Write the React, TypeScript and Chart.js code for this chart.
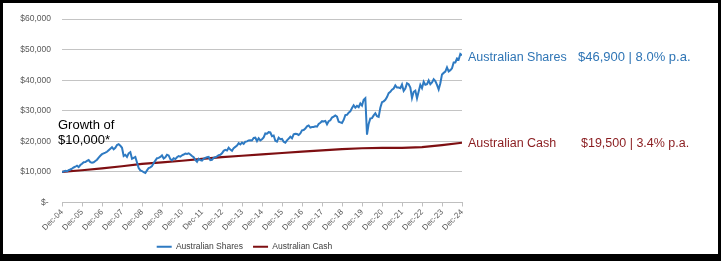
import React, { useEffect, useRef } from 'react';
import { Chart, registerables } from 'chart.js';

Chart.register(...registerables);

const tickLabels = [
  'Dec-04', 'Dec-05', 'Dec-06', 'Dec-07', 'Dec-08', 'Dec-09', 'Dec-10',
  'Dec-11', 'Dec-12', 'Dec-13', 'Dec-14', 'Dec-15', 'Dec-16', 'Dec-17',
  'Dec-18', 'Dec-19', 'Dec-20', 'Dec-21', 'Dec-22', 'Dec-23', 'Dec-24',
];

// Monthly values, Dec-04 .. Dec-24
const sharesValues = [
  10000,
  10150, 10350, 10200, 10550, 10800, 11100, 11450, 11700, 12050, 11600, 12250, 12700,
  13200, 13250, 13600, 13900, 13200, 13000, 13150, 13600, 14000, 14700, 15300, 15800,
  16050, 16300, 16600, 17100, 17600, 18100, 17400, 17900, 18800, 19100, 18600, 17900,
  15200, 15600, 14900, 16100, 16500, 14300, 14600, 14900, 13100, 11300, 10500, 10300,
  9900, 9650, 10500, 11300, 11500, 11900, 12900, 13700, 14500, 14600, 14900, 15400,
  14400, 14800, 15600, 15400, 14200, 13800, 14500, 14200, 14800, 15200, 15000, 15450,
  15700, 16000, 15900, 16100, 15700, 15200, 14800, 13900, 13300, 14300, 13900, 13700,
  14300, 14600, 14800, 14900, 13900, 14000, 14600, 14800, 15100, 15500, 15600, 16100,
  16900, 17200, 17000, 17900, 17300, 16900, 17800, 18200, 18600, 19400, 19000, 19600,
  19200, 19900, 20000, 20300, 20400, 20300, 21100, 21200, 20100, 21000, 20300, 20700,
  21300, 22600, 22500, 23000, 22900, 21700, 21900, 20200, 19900, 21200, 20700, 20800,
  19900, 19600, 20300, 20900, 21500, 21000, 22300, 22500, 22400, 22100, 22600, 23600,
  23700, 24200, 24900, 25200, 24500, 24700, 24700, 24900, 24800, 25700, 26100, 26600,
  26500, 26700, 25600, 26600, 26900, 27800, 28100, 28500, 28100, 26400, 26200, 26000,
  27000, 28600, 28700, 29400, 29800, 30900, 31800, 31000, 31600, 31200, 32400, 31700,
  33600, 34100, 22200, 25700, 27500, 27600, 28500, 29200, 28200, 28000, 31000, 32800,
  33100, 33600, 34500, 35800, 36200, 36900, 37300, 38300, 37600, 37600, 37400, 38600,
  36500, 37300, 39000, 38700, 37600, 34200, 36200, 36600, 34100, 36300, 38500, 37400,
  39500, 38500, 38700, 39900, 38700, 39300, 40300, 39700, 38500, 37000, 39000, 41900,
  42400, 42800, 44200, 42900, 43300, 43900, 45800, 45800, 47100, 46800, 48600, 48200,
];

// Yearly values, Dec-04 .. Dec-24
const cashValues = [
  10000, 10550, 11150, 11850, 12650, 13100, 13650, 14300, 14850, 15300,
  15750, 16200, 16650, 17050, 17450, 17750, 17850, 17870, 18100, 18800, 19550,
];

const seriesNames = ['Australian Shares', 'Australian Cash'];
const summaries = ['$46,900 | 8.0% p.a.', '$19,500 | 3.4% p.a.'];
const growthText = ['Growth of', '$10,000*'];
const yTickValues = [0, 10000, 20000, 30000, 40000, 50000, 60000];

const BLUE = '#2E7AC2';
const BLUE_TEXT = '#2F75B5';
const RED = '#7E0F12';
const RED_TEXT = '#8A1C1F';
const SMALL_FONT = '"Liberation Sans", Arial, sans-serif';

export default function App() {
  const ref = useRef<HTMLCanvasElement>(null);

  useEffect(() => {
    const canvas = ref.current;
    if (!canvas) return;

    const annotations = {
      id: 'annotations',
      afterLayout(chart: any) {
        if (chart.legend) chart.legend.left = 24;
      },
      afterDraw(chart: any) {
        const { ctx, chartArea, scales } = chart;
        const y = scales.y;
        ctx.save();
        ctx.textAlign = 'left';
        ctx.textBaseline = 'alphabetic';
        const xName = chartArea.right + 6;

        ctx.fillStyle = BLUE_TEXT;
        ctx.font = '12.5px ' + SMALL_FONT;
        ctx.fillText(seriesNames[0], xName, y.getPixelForValue(46150));
        ctx.font = '13px ' + SMALL_FONT;
        ctx.fillText(summaries[0], chartArea.right + 116, y.getPixelForValue(46150));

        ctx.fillStyle = RED_TEXT;
        ctx.font = '12.5px ' + SMALL_FONT;
        ctx.fillText(seriesNames[1], xName, y.getPixelForValue(18200));
        ctx.fillText(summaries[1], chartArea.right + 119, y.getPixelForValue(18200));

        ctx.fillStyle = '#000000';
        ctx.font = '13px ' + SMALL_FONT;
        ctx.fillText(growthText[0], chartArea.left - 4, y.getPixelForValue(24160));
        ctx.fillText(growthText[1], chartArea.left - 4, y.getPixelForValue(19250));
        ctx.restore();
      },
    };

    const chart = new Chart(canvas, {
      type: 'line',
      data: {
        datasets: [
          {
            label: seriesNames[0],
            data: sharesValues.map((v, i) => ({ x: i, y: v })),
            borderColor: BLUE,
            backgroundColor: BLUE,
            borderWidth: 2,
            pointRadius: 0,
            tension: 0,
          },
          {
            label: seriesNames[1],
            data: cashValues.map((v, i) => ({ x: i * 12, y: v })),
            borderColor: RED,
            backgroundColor: RED,
            borderWidth: 2.2,
            pointRadius: 0,
            tension: 0,
          },
        ],
      },
      options: {
        responsive: false,
        animation: false,
        events: [],
        layout: { padding: { left: 0, right: 255, top: 16, bottom: 0 } },
        scales: {
          x: {
            type: 'linear',
            min: 0,
            max: 240,
            afterBuildTicks: (scale: any) => {
              scale.ticks = tickLabels.map((_, i) => ({ value: i * 12 }));
            },
            afterFit: (scale: any) => {
              scale.height = 30;
            },
            ticks: {
              autoSkip: false,
              maxRotation: 45,
              minRotation: 45,
              padding: 1,
              color: '#595959',
              font: { family: SMALL_FONT, size: 8 },
              callback: (v: any) => tickLabels[Math.round(Number(v) / 12)],
            },
            grid: {
              drawOnChartArea: false,
              drawTicks: true,
              tickLength: 4,
              color: '#bfbfbf',
            },
            border: { display: true, color: '#bfbfbf', width: 1 },
          },
          y: {
            min: 0,
            max: 60000,
            afterBuildTicks: (scale: any) => {
              scale.ticks = yTickValues.map((v) => ({ value: v }));
            },
            afterFit: (scale: any) => {
              scale.width = 59;
            },
            ticks: {
              padding: 11,
              color: '#595959',
              font: { family: SMALL_FONT, size: 8.5 },
              callback: (v: any) =>
                Number(v) === 0 ? '$- ' : '$' + Number(v).toLocaleString('en-US'),
            },
            grid: { color: '#c4c4c4', lineWidth: 1, drawTicks: false },
            border: { display: false },
          },
        },
        plugins: {
          legend: {
            position: 'bottom',
            labels: {
              usePointStyle: true,
              pointStyle: 'line',
              pointStyleWidth: 15,
              boxWidth: 15,
              boxHeight: 8,
              padding: 10,
              color: '#404040',
              font: { family: SMALL_FONT, size: 8.5 },
            },
          },
          tooltip: { enabled: false },
        },
      },
      plugins: [annotations],
    });

    return () => chart.destroy();
  }, []);

  return (
    <div
      style={{
        position: 'fixed',
        left: 0,
        top: 0,
        width: 721,
        height: 261,
        background: '#000',
        overflow: 'hidden',
      }}
    >
      <div
        style={{
          position: 'absolute',
          left: 3,
          top: 3,
          width: 715,
          height: 251,
          background: '#fff',
        }}
      />
      <canvas
        ref={ref}
        width={714}
        height={258}
        style={{ position: 'absolute', left: 3, top: 3, width: 714, height: 258 }}
      />
    </div>
  );
}
